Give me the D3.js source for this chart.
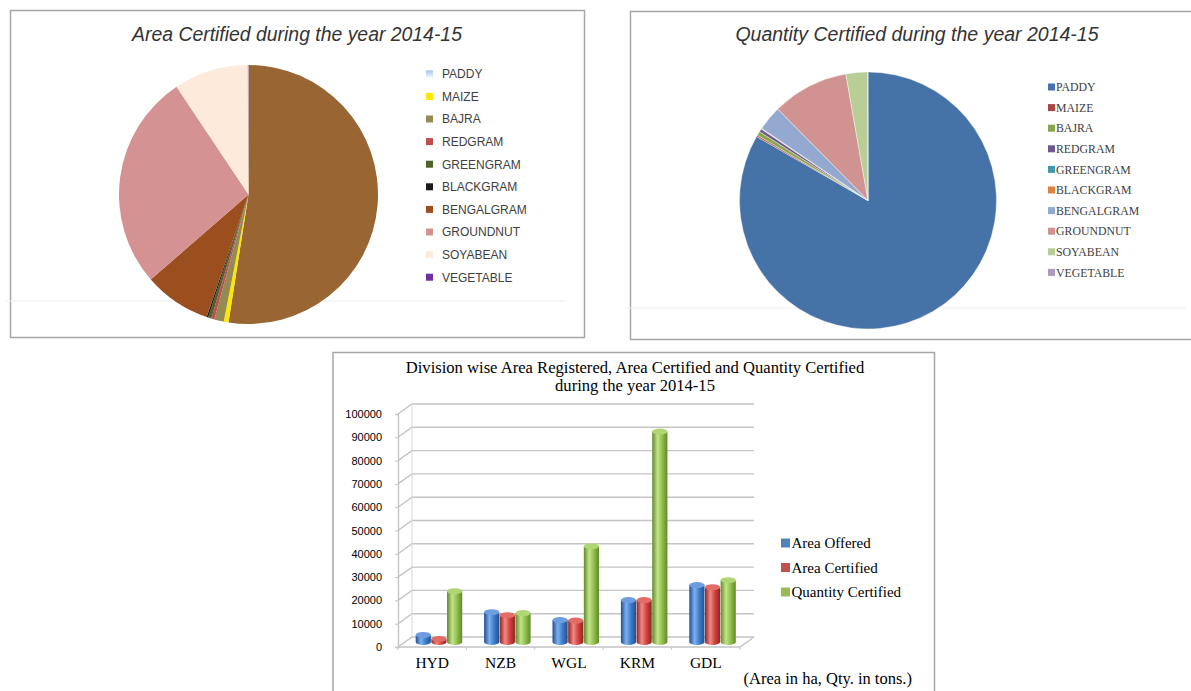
<!DOCTYPE html>
<html>
<head>
<meta charset="utf-8">
<script src="https://cdn.jsdelivr.net/npm/d3@7"></script>
<style>
    body { margin: 0; background: #fff; }
    svg { display: block; }
</style>
</head>
<body>
<script>
//crop names shared by both pies
var crops = ["PADDY", "MAIZE", "BAJRA", "REDGRAM", "GREENGRAM", "BLACKGRAM",
             "BENGALGRAM", "GROUNDNUT", "SOYABEAN", "VEGETABLE"];

//area certified (ha) per crop
var areaCertified = [37300, 420, 850, 280, 280, 140, 5950, 19200, 6600, 70];

//quantity certified (tons) per crop
var qtyCertified = [166000, 400, 1000, 800, 100, 100, 6200, 19200, 5400, 100];

//divisions and the three bar series
var divisions = ["HYD", "NZB", "WGL", "KRM", "GDL"];
var seriesNames = ["Area Offered", "Area Certified", "Quantity Certified"];
var areaOffered = [4300, 14100, 10700, 19300, 25700];
var areaCert = [2600, 12800, 10500, 19300, 24800];
var qtyCert = [23100, 13700, 42400, 91600, 27800];
var yTicks = [0, 10000, 20000, 30000, 40000, 50000, 60000, 70000, 80000, 90000, 100000];

window.onload = setCharts();

function setCharts(){

    var width = 1191,
        height = 691;

    var svg = d3.select("body")
        .append("svg")
        .attr("width", width)
        .attr("height", height);

    var defs = svg.append("defs");

    //light blue gradient used by the PADDY swatch of the first legend
    var lg = defs.append("linearGradient").attr("id", "paddySw")
        .attr("x1", 0).attr("y1", 0).attr("x2", 0).attr("y2", 1);
    lg.append("stop").attr("offset", "0%").attr("stop-color", "#a9c2e6");
    lg.append("stop").attr("offset", "100%").attr("stop-color", "#eef3fb");

    drawAreaPie(svg);
    drawQtyPie(svg);
    drawBars(svg, defs);
}

//first pie: area certified
function drawAreaPie(svg){
    var g = svg.append("g");

    g.append("rect")
        .attr("x", 10.5).attr("y", 10.5)
        .attr("width", 574).attr("height", 327)
        .attr("fill", "none").attr("stroke", "#a6a6a6").attr("stroke-width", 1.5);

    g.append("line")
        .attr("x1", 6).attr("x2", 566).attr("y1", 301).attr("y2", 301)
        .attr("stroke", "#eeeeee");

    g.append("text")
        .attr("x", 297).attr("y", 41)
        .attr("text-anchor", "middle")
        .style("font", "italic 19.4px 'Liberation Sans', Arial, sans-serif")
        .attr("fill", "#333")
        .text("Area Certified during the year 2014-15");

    //slice colours (the PADDY slice is brown in the picture)
    var sliceColors = ["#996633", "#ffe600", "#948a54", "#c0504d", "#4f6228",
                       "#1a1a1a", "#9c4f1e", "#d49292", "#fdeadb", "#b9a0c8"];
    var legendColors = ["url(#paddySw)", "#ffe600", "#948a54", "#c0504d", "#4f6228",
                        "#1a1a1a", "#9c4f1e", "#d49292", "#fdeadb", "#7030a0"];

    var pie = d3.pie().sort(null).value(function(d){ return d; });
    var arc = d3.arc().innerRadius(0).outerRadius(129.5);

    g.append("g")
        .attr("transform", "translate(248.5,194.5)")
        .selectAll("path")
        .data(pie(areaCertified))
        .enter()
        .append("path")
        .attr("d", arc)
        .attr("fill", function(d, i){ return sliceColors[i]; });

    var leg = g.selectAll(".leg1")
        .data(crops)
        .enter()
        .append("g")
        .attr("class", "leg1")
        .attr("transform", function(d, i){ return "translate(426," + (73.8 + i * 22.6) + ")"; });

    leg.append("rect")
        .attr("x", 0).attr("y", -3.5)
        .attr("width", 7).attr("height", 7)
        .attr("fill", function(d, i){ return legendColors[i]; });

    leg.append("text")
        .attr("x", 16).attr("dy", "0.36em")
        .style("font", "12px 'Liberation Sans', Arial, sans-serif")
        .attr("fill", "#404040")
        .text(function(d){ return d; });
}

//second pie: quantity certified
function drawQtyPie(svg){
    var g = svg.append("g");

    g.append("rect")
        .attr("x", 630.5).attr("y", 11.5)
        .attr("width", 570).attr("height", 328)
        .attr("fill", "none").attr("stroke", "#a6a6a6").attr("stroke-width", 1.5);

    g.append("line")
        .attr("x1", 625).attr("x2", 1186).attr("y1", 308).attr("y2", 308)
        .attr("stroke", "#eeeeee");

    g.append("text")
        .attr("x", 917).attr("y", 41)
        .attr("text-anchor", "middle")
        .style("font", "italic 19.5px 'Liberation Sans', Arial, sans-serif")
        .attr("fill", "#333")
        .text("Quantity Certified during the year 2014-15");

    var colors = ["#4572a7", "#aa4643", "#89a54e", "#71588f", "#4198af",
                  "#db843d", "#93a9cf", "#d19392", "#b9cd96", "#a99bbd"];

    var pie = d3.pie().sort(null).value(function(d){ return d; });
    var arc = d3.arc().innerRadius(0).outerRadius(128.5);

    g.append("g")
        .attr("transform", "translate(868,200.5)")
        .selectAll("path")
        .data(pie(qtyCertified))
        .enter()
        .append("path")
        .attr("d", arc)
        .attr("fill", function(d, i){ return colors[i]; })
        .attr("stroke", "#ffffff")
        .attr("stroke-width", 0.4);

    var leg = g.selectAll(".leg2")
        .data(crops)
        .enter()
        .append("g")
        .attr("class", "leg2")
        .attr("transform", function(d, i){ return "translate(1048," + (87 + i * 20.6) + ")"; });

    leg.append("rect")
        .attr("x", 0).attr("y", -3.5)
        .attr("width", 7).attr("height", 7)
        .attr("fill", function(d, i){ return colors[i]; });

    leg.append("text")
        .attr("x", 8).attr("dy", "0.35em")
        .style("font", "11.8px 'Liberation Serif', 'Times New Roman', serif")
        .attr("fill", "#404040")
        .text(function(d){ return d; });
}

//3d style column chart by division
function drawBars(svg, defs){
    var g = svg.append("g");

    g.append("path")
        .attr("d", "M333,691 V352.5 H934.5 V691")
        .attr("fill", "none").attr("stroke", "#a6a6a6").attr("stroke-width", 1.5);

    var title = g.append("text")
        .attr("text-anchor", "middle")
        .style("font", "16.6px 'Liberation Serif', 'Times New Roman', serif")
        .attr("fill", "#000");
    title.append("tspan").attr("x", 635).attr("y", 373)
        .text("Division wise Area Registered, Area Certified and Quantity Certified");
    title.append("tspan").attr("x", 635).attr("y", 391)
        .text("during the year 2014-15");

    //depth offset of the back wall
    var dx = 14, dy = -10;

    var x = d3.scaleBand().domain(divisions).range([398, 740]);
    var xs = d3.scaleBand().domain(seriesNames).range([-23.5, 23.5]);
    var y = d3.scaleLinear().domain([0, 100000]).range([647, 414]);

    var gridColor = "#c4c4c4";

    //gridlines: slant from the front edge then run along the back wall
    g.append("g")
        .selectAll("path")
        .data(yTicks)
        .enter()
        .append("path")
        .attr("d", function(t){
            return "M398," + y(t) + " L" + (398 + dx) + "," + (y(t) + dy) +
                   " L" + (740 + dx) + "," + (y(t) + dy);
        })
        .attr("fill", "none")
        .attr("stroke", gridColor)
        .attr("stroke-width", 1.4);

    //back wall edge and floor
    g.append("path")
        .attr("d", "M" + (398 + dx) + "," + (y(0) + dy) + " V" + (y(100000) + dy))
        .attr("stroke", "#d8d8d8").attr("fill", "none");
    g.append("path")
        .attr("d", "M398," + y(0) + " H740 L" + (740 + dx) + "," + (y(0) + dy))
        .attr("stroke", gridColor).attr("stroke-width", 1.4).attr("fill", "none");

    //y axis
    var yAxis = g.append("g")
        .attr("transform", "translate(398,0)")
        .call(d3.axisLeft(y).tickValues(yTicks).tickFormat(d3.format("d"))
            .tickSize(3).tickPadding(13));
    yAxis.select(".domain").attr("stroke", gridColor).attr("stroke-width", 1.4);
    yAxis.selectAll(".tick line").attr("stroke", gridColor);
    yAxis.selectAll("text")
        .style("font", "11px 'Liberation Sans', Arial, sans-serif")
        .attr("fill", "#000");

    //x axis
    var xAxis = g.append("g")
        .attr("transform", "translate(0," + y(0) + ")")
        .call(d3.axisBottom(x).tickSize(0).tickPadding(9.5));
    xAxis.select(".domain").remove();
    xAxis.selectAll("text")
        .style("font", "15.5px 'Liberation Serif', 'Times New Roman', serif")
        .attr("fill", "#000");

    //small ticks between divisions
    g.append("g")
        .selectAll("line")
        .data(d3.range(divisions.length + 1))
        .enter()
        .append("line")
        .attr("x1", function(i){ return 398 + i * x.step(); })
        .attr("x2", function(i){ return 398 + i * x.step(); })
        .attr("y1", y(0)).attr("y2", y(0) + 3)
        .attr("stroke", gridColor);

    //cylinder gradients
    var baseColors = ["#3f7dcb", "#d4433e", "#93bf50"];
    var darkColors = ["#1f4f92", "#8f2421", "#5f8a28"];
    var lightColors = ["#7fb0ef", "#f08a86", "#c3e48a"];
    var topColors = ["#6c9de0", "#e46c67", "#b0d674"];
    seriesNames.forEach(function(s, i){
        var gr = defs.append("linearGradient").attr("id", "cyl" + i)
            .attr("x1", 0).attr("y1", 0).attr("x2", 1).attr("y2", 0);
        gr.append("stop").attr("offset", "0%").attr("stop-color", darkColors[i]);
        gr.append("stop").attr("offset", "35%").attr("stop-color", lightColors[i]);
        gr.append("stop").attr("offset", "65%").attr("stop-color", baseColors[i]);
        gr.append("stop").attr("offset", "100%").attr("stop-color", darkColors[i]);
    });

    var seriesValues = [areaOffered, areaCert, qtyCert];
    var barData = [];
    divisions.forEach(function(d, j){
        seriesNames.forEach(function(s, i){
            barData.push({div: d, series: s, idx: i, value: seriesValues[i][j]});
        });
    });

    var bw = xs.bandwidth() - 0.5;
    var ry = 3;

    var bars = g.append("g")
        .selectAll("g")
        .data(barData)
        .enter()
        .append("g")
        .attr("transform", "translate(" + (dx / 2) + "," + (dy / 2) + ")");

    bars.append("path")
        .attr("d", function(d){
            var x0 = x(d.div) + x.bandwidth() / 2 + xs(d.series);
            var yt = y(d.value) + ry, yb = y(0);
            return "M" + x0 + "," + yt + " L" + x0 + "," + yb +
                   " A" + (bw / 2) + "," + ry + " 0 0 0 " + (x0 + bw) + "," + yb +
                   " L" + (x0 + bw) + "," + yt + " Z";
        })
        .attr("fill", function(d){ return "url(#cyl" + d.idx + ")"; });

    bars.append("ellipse")
        .attr("cx", function(d){ return x(d.div) + x.bandwidth() / 2 + xs(d.series) + bw / 2; })
        .attr("cy", function(d){ return y(d.value) + ry; })
        .attr("rx", bw / 2)
        .attr("ry", ry)
        .attr("fill", function(d){ return topColors[d.idx]; });

    //legend
    var legSwatch = ["#4f81bd", "#c0504d", "#9bbb59"];
    var leg = g.selectAll(".leg3")
        .data(seriesNames)
        .enter()
        .append("g")
        .attr("class", "leg3")
        .attr("transform", function(d, i){ return "translate(781," + (543 + i * 24.5) + ")"; });

    leg.append("rect")
        .attr("x", 0).attr("y", -4.5)
        .attr("width", 9).attr("height", 9)
        .attr("fill", function(d, i){ return legSwatch[i]; });

    leg.append("text")
        .attr("x", 10.5).attr("dy", "0.34em")
        .style("font", "15px 'Liberation Serif', 'Times New Roman', serif")
        .attr("fill", "#000")
        .text(function(d){ return d; });

    g.append("text")
        .attr("x", 912).attr("y", 684)
        .attr("text-anchor", "end")
        .style("font", "16.5px 'Liberation Serif', 'Times New Roman', serif")
        .attr("fill", "#000")
        .text("(Area in ha, Qty. in tons.)");
}
</script>
</body>
</html>
